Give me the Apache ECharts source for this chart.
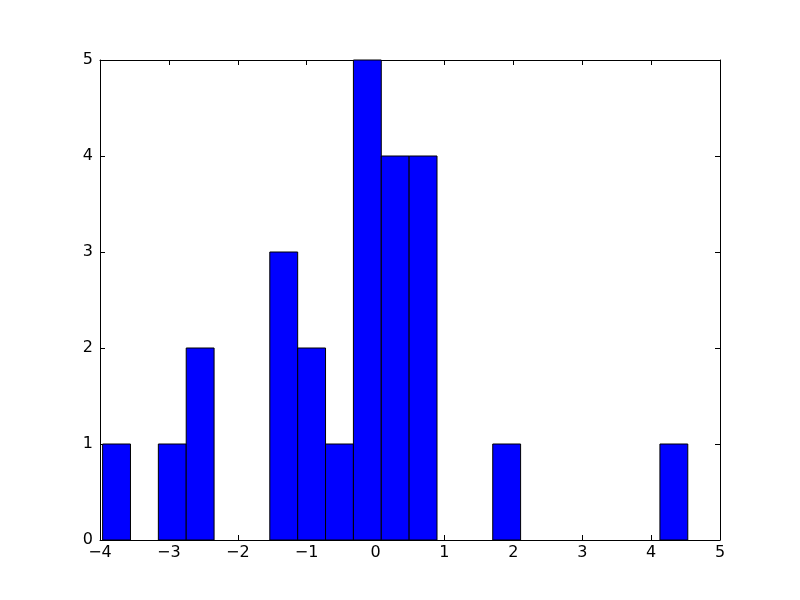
<!DOCTYPE html>
<html>
<head>
<meta charset="utf-8">
<script src="https://cdn.jsdelivr.net/npm/echarts@6/dist/echarts.min.js"></script>
<style>html,body{margin:0;padding:0;background:#fff}#c{width:800px;height:600px}</style>
</head>
<body>
<div id="c"></div>
<script>
// Histogram bins (21 equal-width bins)
const binStart = -3.962;
const binWidth = 0.4045;
const counts = [1, 0, 1, 2, 0, 0, 3, 2, 1, 5, 4, 4, 0, 0, 1, 0, 0, 0, 0, 0, 1];
const xTicks = [-4, -3, -2, -1, 0, 1, 2, 3, 4, 5];
const yTicks = [0, 1, 2, 3, 4, 5];

const data = counts.map((c, i) => [binStart + i * binWidth, binStart + (i + 1) * binWidth, c]);

const font = {fontFamily: 'DejaVu Sans', fontSize: 16, color: '#000'};
const fmt = v => String(v).replace('-', '\u2212');
const line = {show: true, onZero: false, lineStyle: {color: '#000', width: 1}};
const tick = {show: true, inside: true, length: 5, lineStyle: {color: '#000', width: 1}};

const chart = echarts.init(document.getElementById('c'), null, {renderer: 'canvas'});
chart.setOption({
  animation: false,
  backgroundColor: '#fff',
  grid: {left: 100, right: 80, top: 60, bottom: 60, containLabel: false},
  xAxis: [
    {type: 'value', min: -4, max: 5, interval: 1, position: 'bottom',
     axisLine: line, axisTick: tick, splitLine: {show: false},
     axisLabel: Object.assign({margin: 5, formatter: fmt}, font)},
    {type: 'value', min: -4, max: 5, interval: 1, position: 'top',
     axisLine: line, axisTick: tick, splitLine: {show: false}, axisLabel: {show: false}}
  ],
  yAxis: [
    {type: 'value', min: 0, max: 5, interval: 1, position: 'left',
     axisLine: line, axisTick: tick, splitLine: {show: false},
     axisLabel: Object.assign({margin: 7, formatter: fmt}, font)},
    {type: 'value', min: 0, max: 5, interval: 1, position: 'right',
     axisLine: line, axisTick: tick, splitLine: {show: false}, axisLabel: {show: false}}
  ],
  series: [{
    type: 'custom',
    xAxisIndex: 0, yAxisIndex: 0,
    data: data,
    renderItem: function (params, api) {
      const c = api.value(2);
      if (!c) return null;
      const p0 = api.coord([api.value(0), 0]);
      const p1 = api.coord([api.value(1), c]);
      return {
        type: 'rect',
        shape: {x: p0[0], y: p1[1], width: p1[0] - p0[0], height: p0[1] - p1[1]},
        style: {fill: '#0000ff', stroke: '#000', lineWidth: 1}
      };
    }
  }]
});
</script>
</body>
</html>
